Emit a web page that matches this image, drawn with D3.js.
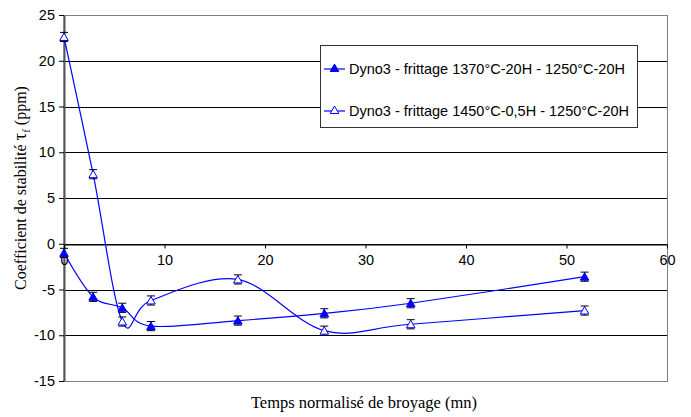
<!DOCTYPE html>
<html>
<head>
<meta charset="utf-8">
<script src="https://cdn.jsdelivr.net/npm/d3@7"></script>
<style>
  html, body { margin: 0; padding: 0; background: #fff; }
  svg { display: block; }
</style>
</head>
<body>
<svg id="chart" width="691" height="417"></svg>
<script>
// Grinding time (mn) and temperature stability coefficient (ppm)
const times = [0, 2.9, 5.8, 8.65, 17.3, 25.9, 34.5, 51.8];
const seriesFilled = [-1.0, -5.8, -7.0, -9.0, -8.4, -7.6, -6.5, -3.6];
const seriesOpen   = [22.6, 7.6, -8.5, -6.2, -3.9, -9.5, -8.8, -7.3];
const errFilled = [0.5, 0.5, 0.5, 0.5, 0.5, 0.5, 0.5, 0.5];
const errOpen   = [0.5, 0.5, 0.5, 0.5, 0.5, 0.5, 0.5, 0.5];
const seriesNames = [
  "Dyno3 - frittage 1370°C-20H - 1250°C-20H",
  "Dyno3 - frittage 1450°C-0,5H - 1250°C-20H"
];
const xTicks = [0, 10, 20, 30, 40, 50, 60];
const yTicks = [-15, -10, -5, 0, 5, 10, 15, 20, 25];

const svg = d3.select("#chart");
const plot = { left: 64, right: 667, top: 15, bottom: 381 };

const x = d3.scaleLinear().domain([0, 60]).range([plot.left, plot.right]);
const y = d3.scaleLinear().domain([-15, 25]).range([plot.bottom, plot.top]);

const sans = "'Liberation Sans', Arial, sans-serif";
const serif = "'Liberation Serif', 'Times New Roman', serif";
const plainNum = d => String(d).replace("\u2212", "-");

// plot frame
svg.append("rect")
  .attr("x", plot.left).attr("y", plot.top + 0.5)
  .attr("width", plot.right - plot.left + 0.5).attr("height", plot.bottom - plot.top)
  .attr("fill", "#fff").attr("stroke", "#808080").attr("stroke-width", 1);

// horizontal gridlines
svg.append("g").selectAll("line")
  .data(yTicks.filter(v => v > -15 && v < 25))
  .join("line")
  .attr("x1", plot.left).attr("x2", plot.right)
  .attr("y1", d => Math.round(y(d)) + 0.5).attr("y2", d => Math.round(y(d)) + 0.5)
  .attr("stroke", "#000").attr("stroke-width", 1);

// y axis
const yAxis = svg.append("g")
  .attr("transform", `translate(${plot.left},0)`)
  .call(d3.axisLeft(y).tickValues(yTicks).tickFormat(plainNum)
    .tickSize(5).tickSizeOuter(0).tickPadding(4));
yAxis.select(".domain").attr("stroke", "#555").attr("stroke-width", 2);
yAxis.selectAll(".tick line").attr("stroke", "#000");
yAxis.selectAll(".tick text")
  .attr("font-family", sans).attr("font-size", 14.5).attr("fill", "#000");

// x axis crossing at zero
const xAxis = svg.append("g")
  .attr("transform", `translate(0,${Math.round(y(0)) + 0.5})`)
  .call(d3.axisBottom(x).tickValues(xTicks).tickFormat(plainNum)
    .tickSize(4).tickSizeOuter(0).tickPadding(6));
xAxis.select(".domain").attr("stroke", "#000");
xAxis.selectAll(".tick line").attr("stroke", "#000");
xAxis.selectAll(".tick text")
  .attr("font-family", sans).attr("font-size", 14.5).attr("fill", "#000");

// series
const line = d3.line()
  .x(d => x(d[0])).y(d => y(d[1]))
  .curve(d3.curveCardinal.tension(0));

const seriesDefs = [
  { values: seriesFilled, errs: errFilled, fill: "#0000ff" },
  { values: seriesOpen, errs: errOpen, fill: "#fff" }
];

const tri = d3.symbol().type(d3.symbolTriangle).size(32);

seriesDefs.forEach(s => {
  const pts = times.map((t, i) => [t, s.values[i], s.errs[i]]);
  svg.append("path")
    .datum(pts)
    .attr("d", line)
    .attr("fill", "none").attr("stroke", "#0000ff").attr("stroke-width", 1.2);

  const g = svg.append("g");
  // error bars
  g.selectAll("path.err").data(pts).join("path")
    .attr("class", "err")
    .attr("d", d => {
      const cx = x(d[0]), y1 = y(d[1] + d[2]), y2 = y(d[1] - d[2]);
      return `M${cx - 4},${y1}H${cx + 4}M${cx},${y1}V${y2}M${cx - 4},${y2}H${cx + 4}`;
    })
    .attr("stroke", "#000").attr("stroke-width", 1).attr("fill", "none");
  // markers
  g.selectAll("path.mk").data(pts).join("path")
    .attr("class", "mk")
    .attr("d", tri)
    .attr("transform", d => `translate(${x(d[0])},${y(d[1]) + 1})`)
    .attr("fill", s.fill).attr("stroke", "#0000ff").attr("stroke-width", 1);
});

// legend
const lg = svg.append("g");
lg.append("rect")
  .attr("x", 320.5).attr("y", 45.5).attr("width", 317).attr("height", 82)
  .attr("fill", "#fff").attr("stroke", "#333").attr("stroke-width", 1);
seriesNames.forEach((name, i) => {
  const ly = 69 + i * 42;
  lg.append("line").attr("x1", 324).attr("x2", 345).attr("y1", ly).attr("y2", ly)
    .attr("stroke", "#0000ff").attr("stroke-width", 1.2);
  lg.append("path").attr("d", tri)
    .attr("transform", `translate(334.5,${ly})`)
    .attr("fill", seriesDefs[i].fill).attr("stroke", "#0000ff").attr("stroke-width", 1);
  lg.append("text").attr("x", 349).attr("y", ly).attr("dy", "0.35em")
    .attr("font-family", sans).attr("font-size", 14.5).attr("fill", "#000")
    .text(name);
});

// axis titles
svg.append("text")
  .attr("x", 364).attr("y", 408)
  .attr("text-anchor", "middle")
  .attr("font-family", serif).attr("font-size", 16.5).attr("fill", "#000")
  .text("Temps normalisé de broyage (mn)");

const yt = svg.append("text")
  .attr("transform", "translate(26,188) rotate(-90)")
  .attr("text-anchor", "middle")
  .attr("font-family", serif).attr("font-size", 16).attr("fill", "#000");
yt.append("tspan").text("Coefficient de stabilité  ");
yt.append("tspan").attr("font-size", 19).text("τ");
yt.append("tspan").attr("font-size", 11).attr("dy", 4).text("f");
yt.append("tspan").attr("dy", -4).text("  (ppm)");
</script>
</body>
</html>
